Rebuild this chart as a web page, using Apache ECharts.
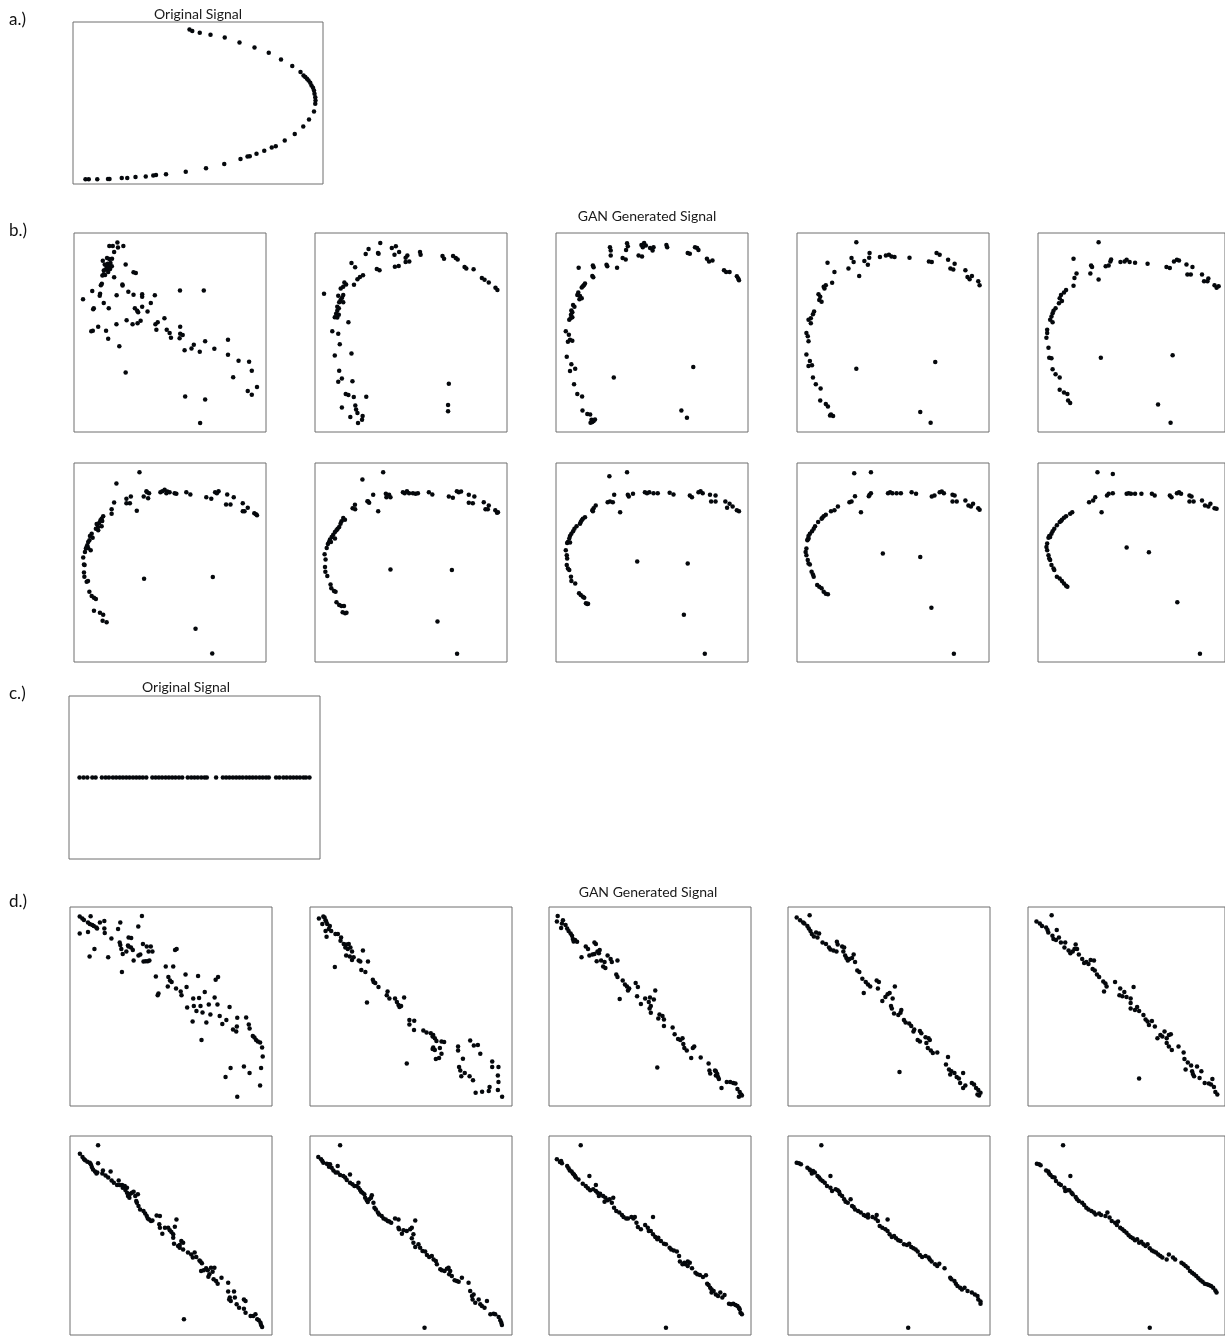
<!DOCTYPE html>
<html>
<head>
<meta charset="utf-8">
<script src="https://cdn.jsdelivr.net/npm/echarts@6/dist/echarts.min.js"></script>
<style>
  html, body { margin: 0; padding: 0; background: #fff; }
  #chart { width: 1225px; height: 1336px; }
</style>
</head>
<body>
<div id="chart"></div>
<script>
// Each panel plots normalised signal samples on a 0-100 by 0-100 plane.
const titleOriginal = 'Original Signal';
const titleGan = 'GAN Generated Signal';
const rowLabels = ['a.)', 'b.)', 'c.)', 'd.)'];

// a.) parabolic signal
const aOriginal = [
  [46.6,95.3],[47.7,94.4],[50.7,93.4],[55.0,92.2],[60.7,90.5],[66.6,87.4],[72.6,84.3],[78.3,81.0],
  [83.2,76.9],[87.7,72.8],[91.0,69.1],[92.2,67.0],[92.9,66.0],[93.6,64.9],[94.2,63.9],[94.9,62.5],
  [95.4,60.8],[96.0,59.4],[96.4,57.7],[96.6,55.7],[96.9,53.6],[97.0,51.5],[96.9,49.5],[96.4,44.7],
  [94.4,39.8],[92.1,35.5],[88.7,30.9],[84.7,26.8],[81.1,23.3],[79.5,22.5],[76.5,20.6],[73.4,18.6],
  [70.7,17.1],[69.8,16.9],[67.0,15.5],[60.5,12.4],[53.2,9.7],[45.1,7.6],[37.2,6.0],[33.2,5.6],
  [32.1,5.2],[29.1,4.7],[25.0,4.3],[21.7,3.7],[19.5,3.7],[14.6,3.1],[14.0,3.1],[9.7,2.9],[6.3,2.9],[5.0,2.9]
];

// b.) generated parabola samples, training progression
const bGan1 = [
  [18.4,93.5],[20.2,93.5],[22.6,95.2],[22.9,92.7],[25.7,93.5],[20.9,90.5],[15.0,86.1],[17.2,87.4],[18.4,86.9],
  [19.8,87.1],[16.0,84.2],[17.6,84.6],[19.0,84.9],[16.9,83.4],[18.3,82.9],[19.7,83.3],[15.5,81.1],[16.4,81.6],
  [17.4,82.1],[18.8,81.9],[17.8,80.4],[15.5,79.3],[14.8,78.6],[16.2,78.9],[20.9,77.8],[26.9,84.2],[31.0,80.3],
  [32.2,79.9],[14.5,74.5],[14.0,73.8],[25.2,74.1],[25.3,73.6],[9.5,70.8],[13.6,69.5],[13.4,68.5],[22.2,68.7],
  [28.3,70.5],[31.0,69.0],[35.5,69.2],[35.5,68.0],[42.1,68.7],[55.2,71.1],[67.6,71.1],[4.7,66.7],[15.5,64.8],
  [10.3,62.2],[10.0,61.7],[18.1,62.2],[31.7,62.2],[35.5,63.0],[40.0,64.8],[32.9,60.9],[33.4,60.2],[38.3,60.5],
  [12.6,52.9],[9.8,50.9],[9.0,50.6],[16.7,50.9],[22.1,54.2],[17.8,46.9],[27.4,56.2],[30.5,54.2],[33.1,54.6],
  [34.7,55.9],[42.4,54.2],[43.6,55.2],[47.1,57.2],[42.9,51.4],[48.3,51.4],[49.8,49.8],[55.3,52.9],[50.5,47.4],
  [55.0,47.1],[55.3,49.4],[56.6,48.8],[23.6,43.1],[57.6,41.1],[61.2,42.0],[62.4,43.8],[65.5,40.3],[68.3,45.6],
  [73.1,41.8],[80.2,46.3],[80.2,38.8],[85.7,35.8],[91.2,35.3],[92.6,30.8],[82.9,27.5],[90.5,20.6],[92.6,18.7],
  [95.3,22.6],[26.9,29.9],[57.9,17.9],[68.3,16.3],[65.7,4.5]
];
const bGan2 = [
  [34.0,95.0],[42.1,93.4],[40.0,92.4],[43.8,90.4],[41.4,89.1],[27.9,92.0],[26.4,89.4],[32.8,89.9],[33.1,89.6],
  [54.7,90.4],[55.0,89.1],[48.1,88.7],[47.2,87.6],[49.1,85.7],[47.2,85.4],[66.4,88.4],[67.2,87.1],[71.9,88.4],
  [73.3,87.4],[74.3,86.7],[77.9,82.9],[78.8,82.1],[82.6,81.8],[86.9,77.4],[88.3,76.5],[90.5,75.1],[94.0,72.5],
  [95.0,71.3],[32.2,81.9],[33.6,81.3],[41.6,83.1],[43.6,83.4],[19.0,84.9],[20.9,82.8],[25.0,78.8],[23.4,77.9],
  [22.1,76.8],[20.3,74.0],[15.3,75.1],[16.2,74.1],[14.7,73.0],[13.4,72.1],[4.7,69.5],[12.1,68.5],[14.7,68.8],
  [14.1,67.5],[13.3,66.3],[12.6,65.2],[14.7,65.2],[11.6,63.0],[12.4,62.2],[11.6,60.9],[11.0,59.4],[10.3,57.7],
  [11.6,57.5],[12.4,58.9],[17.4,55.2],[9.0,50.6],[12.1,49.4],[12.9,44.1],[10.3,38.5],[19.0,39.5],[12.6,30.8],
  [14.0,26.9],[12.1,25.2],[19.5,25.5],[16.0,19.1],[17.4,18.6],[20.2,17.6],[26.7,17.7],[14.0,12.3],[21.0,13.3],
  [21.4,11.3],[22.1,9.6],[18.4,7.6],[24.8,8.0],[24.5,6.1],[22.4,4.5],[69.7,24.2],[69.3,13.6],[69.3,10.4]
];
const bGan3 = [
  [28.1,92.9],[28.5,91.2],[28.5,88.7],[37.0,94.9],[37.4,93.4],[36.5,91.5],[44.5,94.0],[45.9,95.0],[46.8,93.7],
  [45.2,92.9],[49.0,92.4],[50.3,91.2],[50.8,92.9],[43.0,88.7],[44.8,88.2],[57.5,94.0],[57.9,92.9],[68.6,89.9],
  [69.7,89.6],[72.4,92.9],[74.2,91.5],[73.5,92.4],[78.6,87.1],[79.7,85.7],[81.5,86.2],[87.5,81.3],[88.6,80.4],
  [90.4,80.4],[94.2,78.3],[94.9,77.1],[95.3,76.3],[26.3,84.1],[26.7,83.3],[31.8,82.6],[34.7,87.4],[36.3,86.7],
  [19.2,83.7],[19.6,82.8],[11.8,82.6],[18.9,78.4],[19.4,77.8],[15.1,74.6],[14.5,73.8],[13.4,72.6],[14.0,73.3],
  [11.6,70.1],[11.1,68.8],[12.5,68.3],[12.2,66.7],[13.4,67.2],[8.9,63.8],[9.6,63.0],[8.0,61.0],[8.5,60.2],
  [7.8,58.9],[6.9,56.4],[7.6,57.2],[8.5,57.7],[5.1,50.6],[6.7,48.9],[7.3,46.4],[6.2,45.3],[8.5,45.9],
  [5.6,37.8],[8.0,34.0],[7.3,30.7],[10.0,31.8],[9.4,24.0],[11.1,19.1],[13.6,17.9],[13.8,10.8],[16.3,9.1],
  [17.8,8.8],[18.5,6.1],[19.6,5.5],[18.9,5.0],[20.3,6.3],[18.0,4.6],[30.1,27.4],[71.5,32.7],[65.3,10.8],[68.2,7.1]
];
const bGan4 = [
  [30.9,95.4],[28.4,87.4],[29.5,85.4],[37.8,90.0],[37.6,87.6],[35.1,85.9],[36.9,84.1],[26.8,82.1],[32.4,78.4],
  [43.2,87.9],[46.3,88.7],[47.9,89.1],[49.2,88.2],[50.8,87.9],[58.6,87.6],[68.7,85.7],[70.2,85.4],[72.7,89.9],
  [74.3,89.1],[78.7,86.6],[79.9,82.1],[81.4,81.6],[82.1,84.6],[87.7,81.3],[88.8,77.9],[89.9,76.8],[91.1,78.4],
  [94.4,75.8],[95.1,73.8],[15.9,85.1],[19.5,80.4],[18.3,75.0],[15.0,73.8],[14.3,72.1],[13.9,73.0],[11.2,69.2],
  [12.1,68.0],[11.6,66.3],[12.8,65.5],[8.9,60.5],[8.3,59.2],[7.2,57.2],[6.0,56.4],[7.2,54.7],[4.9,49.8],
  [5.6,48.1],[6.0,45.6],[4.9,39.0],[6.7,35.7],[7.8,33.5],[6.0,33.2],[8.3,27.4],[9.8,24.0],[12.3,21.9],
  [12.1,15.8],[15.0,14.1],[16.1,12.8],[17.7,8.8],[18.8,8.0],[17.2,8.3],[30.9,31.8],[72.0,35.2],[64.2,10.1],[69.6,4.6]
];
const bGan5 = [
  [32.4,95.4],[19.0,87.1],[28.4,83.7],[28.9,82.9],[28.0,79.6],[32.4,76.6],[36.2,83.3],[37.8,83.7],[39.1,86.7],
  [38.7,85.7],[44.1,85.4],[46.3,85.7],[47.4,86.6],[49.0,85.4],[51.9,85.1],[58.6,84.6],[68.7,82.9],[70.5,82.4],
  [72.7,85.7],[74.3,86.6],[75.4,86.2],[79.4,84.2],[79.9,79.1],[81.7,79.1],[82.6,82.9],[87.7,79.1],[88.8,75.8],
  [90.6,75.8],[91.1,77.1],[94.4,73.8],[95.5,72.5],[96.6,73.3],[20.6,79.6],[19.5,77.4],[19.0,73.5],[15.0,71.3],
  [13.9,70.1],[12.3,68.8],[11.6,67.2],[12.8,65.8],[11.2,64.7],[9.4,62.2],[8.3,60.9],[7.8,59.7],[7.2,58.0],
  [6.5,56.4],[7.8,55.2],[4.9,51.4],[4.9,49.8],[4.5,47.3],[5.6,42.3],[6.0,37.3],[7.2,37.0],[7.8,31.5],
  [9.4,29.0],[11.6,27.4],[11.6,21.2],[13.9,19.9],[15.7,19.1],[16.1,15.8],[17.2,14.6],[33.6,37.3],[72.0,38.6],
  [64.2,13.8],[70.9,4.6]
];
const bGan6 = [
  [34.1,95.3],[22.1,89.7],[20.9,80.2],[19.6,76.7],[19.6,74.5],[27.3,82.0],[27.3,79.8],[29.1,79.8],[29.6,83.2],
  [32.7,76.0],[36.3,83.2],[38.6,82.3],[37.7,85.8],[39.1,84.8],[38.1,85.3],[45.0,85.3],[46.0,85.8],[47.2,86.5],
  [48.1,84.8],[48.6,85.7],[49.8,85.3],[52.4,84.8],[53.3,84.5],[58.5,85.3],[60.6,84.2],[68.9,82.8],[71.5,82.0],
  [73.5,85.3],[75.3,85.8],[74.4,84.8],[79.8,84.2],[83.2,82.8],[79.2,79.2],[81.5,79.2],[87.9,79.8],[90.5,77.5],
  [88.8,75.8],[87.9,75.8],[93.9,74.8],[94.8,74.2],[95.3,73.7],[15.2,73.3],[14.4,72.0],[13.8,71.2],[14.7,70.8],
  [13.1,69.8],[11.8,69.3],[12.5,67.8],[14.4,68.2],[11.4,67.0],[12.6,66.2],[9.2,64.5],[8.3,63.3],[9.7,62.5],
  [8.0,61.2],[7.4,60.3],[6.9,58.7],[6.6,57.8],[7.4,57.3],[6.2,57.0],[8.7,56.2],[5.7,55.3],[4.8,52.5],
  [5.2,49.0],[5.5,48.7],[5.2,45.0],[5.4,42.8],[6.6,40.3],[7.3,40.7],[8.0,35.3],[9.2,33.2],[10.4,32.3],
  [11.4,31.7],[10.4,25.7],[13.5,24.8],[15.2,23.7],[14.9,20.7],[17.0,20.0],[36.5,41.8],[72.3,42.7],[63.3,16.7],[72.0,4.3]
];
const bGan7 = [
  [35.5,95.3],[24.7,91.7],[20.8,79.0],[19.6,77.3],[20.9,76.7],[27.7,80.7],[28.2,80.0],[27.3,80.8],[30.3,84.0],
  [32.9,75.7],[36.9,84.5],[38.6,84.0],[39.3,82.8],[37.2,82.8],[45.8,85.3],[46.7,84.8],[47.9,85.8],[49.0,84.8],
  [51.0,84.8],[52.4,84.5],[53.6,84.8],[59.3,85.3],[61.1,84.2],[69.7,83.2],[71.8,82.5],[73.9,85.8],[74.9,85.3],
  [76.1,85.7],[80.1,84.0],[83.0,83.2],[80.1,80.0],[82.2,79.8],[87.9,80.3],[90.5,78.7],[88.8,76.7],[90.0,76.7],
  [93.9,76.2],[94.8,75.0],[95.3,75.3],[14.7,72.3],[15.6,71.5],[13.8,70.7],[13.3,69.5],[12.6,67.8],[11.8,67.0],
  [11.2,66.2],[10.4,65.3],[9.5,64.0],[8.7,62.8],[7.8,61.5],[7.3,60.3],[6.7,59.3],[8.3,60.3],[10.4,62.0],
  [6.1,57.3],[5.0,54.2],[5.5,51.5],[5.2,47.8],[5.4,45.3],[6.4,43.2],[8.1,39.0],[8.5,37.0],[9.9,35.7],
  [10.7,35.3],[11.2,30.0],[12.6,28.7],[13.8,28.2],[15.1,28.2],[14.4,25.0],[15.7,24.5],[16.4,24.8],[39.3,46.5],
  [71.3,46.2],[63.8,20.3],[74.0,4.2]
];
const bGan8 = [
  [37.0,95.3],[27.8,93.3],[30.3,84.0],[28.1,80.7],[26.9,80.3],[29.6,80.3],[33.4,75.3],[37.4,84.0],[37.9,83.2],
  [40.1,84.5],[46.3,85.3],[47.4,84.8],[48.6,85.3],[50.8,84.8],[53.0,84.8],[59.2,85.0],[61.2,84.2],[69.7,83.7],
  [70.8,82.8],[74.2,85.3],[75.3,85.8],[76.4,84.8],[80.2,84.0],[83.1,83.7],[80.8,80.7],[83.1,80.7],[88.2,80.7],
  [90.4,79.5],[92.0,78.2],[89.1,77.5],[94.2,76.2],[95.3,75.7],[20.7,78.7],[19.6,77.3],[18.9,76.2],[19.2,75.7],
  [15.1,72.8],[14.0,72.0],[12.9,70.3],[13.4,71.2],[12.5,69.5],[10.7,68.2],[9.6,67.0],[8.9,65.7],[8.0,64.5],
  [7.3,63.3],[6.9,62.0],[6.2,60.3],[5.8,59.8],[7.3,60.0],[5.1,56.2],[5.6,53.7],[5.8,52.0],[5.6,48.7],
  [6.2,47.0],[6.9,46.2],[7.8,42.8],[8.0,40.7],[10.0,39.5],[12.0,34.5],[12.9,33.7],[14.0,32.8],[14.7,32.3],
  [15.6,29.5],[16.3,29.2],[16.7,29.3],[42.3,50.5],[68.6,49.5],[66.6,23.7],[77.5,4.2]
];
const bGan9 = [
  [29.8,94.8],[38.5,95.3],[27.3,80.3],[28.4,80.7],[30.2,83.3],[33.3,75.3],[37.4,83.3],[37.8,84.0],[38.5,84.8],
  [47.4,84.8],[48.5,85.3],[49.7,84.8],[51.9,84.8],[54.1,84.8],[59.7,85.3],[62.0,84.5],[70.2,83.2],[71.6,83.7],
  [74.3,85.3],[75.4,85.7],[76.5,84.8],[81.0,84.0],[82.1,83.7],[81.0,80.7],[83.2,80.7],[87.7,81.2],[89.3,78.7],
  [90.6,78.2],[91.7,79.5],[94.4,77.3],[95.1,76.5],[21.3,78.2],[19.5,76.2],[17.7,75.7],[15.0,74.0],[13.9,73.3],
  [12.8,72.0],[13.2,72.5],[11.0,70.3],[9.4,68.2],[8.7,67.0],[7.8,65.7],[6.7,64.5],[6.0,63.3],[5.6,61.7],
  [6.0,62.0],[5.4,61.2],[4.9,57.0],[4.5,55.3],[4.9,53.7],[5.6,51.2],[6.0,49.5],[6.7,49.0],[7.6,45.3],
  [8.3,44.0],[8.7,42.8],[10.5,38.7],[11.6,37.8],[12.8,37.0],[13.9,35.3],[15.0,34.3],[16.1,34.0],[44.7,54.5],
  [64.2,52.8],[70.0,27.3],[81.7,4.2]
];
const bGan10 = [
  [31.8,95.3],[40.0,94.5],[27.3,80.3],[29.5,81.2],[30.6,82.8],[34.0,75.3],[36.9,83.7],[37.8,84.5],[40.0,84.8],
  [47.4,84.5],[48.5,84.8],[49.7,84.5],[51.9,84.5],[55.3,84.5],[60.9,84.5],[62.4,83.7],[70.5,83.7],[71.4,82.8],
  [74.3,84.8],[75.4,85.3],[76.5,84.5],[81.0,83.7],[82.1,83.2],[81.0,80.7],[83.2,80.7],[87.7,81.2],[89.3,78.7],
  [91.1,78.2],[92.2,79.5],[94.4,77.3],[95.5,77.0],[18.3,75.3],[17.2,74.5],[15.0,73.3],[13.9,72.5],[12.8,71.5],
  [11.6,70.3],[12.3,70.8],[10.1,68.7],[8.7,67.0],[7.8,65.7],[7.2,64.5],[6.0,63.3],[5.6,62.5],[6.5,62.8],
  [4.9,59.5],[4.5,57.8],[4.9,56.2],[5.6,53.7],[6.0,52.0],[6.5,51.2],[7.2,48.7],[8.3,47.0],[8.7,46.2],
  [10.1,42.8],[11.6,42.0],[12.8,40.7],[13.9,39.5],[15.0,38.3],[15.7,37.8],[47.4,57.5],[59.3,55.2],[74.5,30.0],[86.6,4.2]
];

// c.) constant-level signal
const cOriginal = [
  [4.2,50],[5.8,50],[7.3,50],[9.3,50],[10.6,50],[13.1,50],[14.6,50],[15.9,50],[17.5,50],[18.8,50],[20.2,50],
  [21.5,50],[22.8,50],[24.1,50],[25.5,50],[26.8,50],[28.1,50],[29.4,50],[30.8,50],[33.2,50],[34.5,50],[35.8,50],
  [37.1,50],[38.5,50],[39.8,50],[41.1,50],[42.4,50],[43.8,50],[45.1,50],[47.3,50],[48.7,50],[50.0,50],[51.3,50],
  [52.7,50],[54.0,50],[54.9,50],[58.6,50],[61.3,50],[62.6,50],[63.9,50],[65.3,50],[66.6,50],[67.9,50],[69.2,50],
  [70.6,50],[71.9,50],[73.2,50],[74.5,50],[75.9,50],[77.2,50],[78.5,50],[79.6,50],[82.5,50],[83.8,50],[85.4,50],
  [86.7,50],[88.1,50],[89.4,50],[90.7,50],[92.0,50],[93.4,50],[94.4,50],[95.8,50]
];

// d.) generated samples, training progression
const dGan1 = [
  [4.8,95.2],[6.1,94.2],[6.9,93.5],[10.2,95.3],[8.9,92.2],[9.8,91.4],[11.0,90.9],[11.8,90.5],[13.0,89.7],
  [13.4,89.2],[4.8,86.7],[8.9,87.5],[14.8,92.2],[17.0,93.0],[17.0,89.2],[17.2,86.9],[20.5,84.2],[23.8,88.9],
  [24.9,92.2],[24.6,82.2],[24.9,80.9],[25.4,78.9],[26.1,76.4],[29.0,84.7],[30.3,84.4],[28.7,80.6],[30.2,79.7],
  [31.1,78.4],[29.0,80.1],[27.9,77.6],[31.5,73.1],[33.8,90.2],[35.6,95.5],[33.9,75.6],[34.8,76.1],[36.1,81.4],
  [38.0,80.2],[38.9,77.6],[40.0,80.1],[40.8,77.6],[36.4,72.6],[37.5,72.8],[38.5,72.8],[39.3,73.1],[12.1,78.9],
  [9.7,75.1],[18.9,74.8],[25.7,67.3],[42.5,65.1],[43.8,56.5],[43.4,55.6],[47.4,70.1],[51.1,70.1],[48.7,64.8],
  [49.5,63.1],[48.4,60.1],[50.3,62.3],[52.5,59.0],[52.0,78.4],[52.8,78.9],[54.8,57.6],[55.2,55.6],[57.2,66.1],
  [57.7,59.8],[61.0,54.0],[63.4,65.3],[63.9,54.3],[58.0,49.5],[61.3,50.2],[62.6,47.8],[64.6,50.3],[66.7,57.3],
  [65.6,47.0],[68.7,51.0],[69.5,46.0],[72.1,63.5],[73.3,64.8],[71.6,54.5],[73.0,51.0],[67.5,41.9],[60.7,42.4],
  [65.1,33.2],[74.1,45.2],[75.4,41.2],[77.4,43.2],[79.0,49.8],[80.7,38.5],[82.3,37.4],[82.6,39.9],[82.8,44.4],
  [87.2,44.5],[88.5,41.0],[88.9,39.0],[90.5,35.2],[91.3,34.4],[92.1,33.2],[93.0,32.4],[94.1,31.9],[95.1,29.4],
  [95.4,24.9],[94.6,19.1],[94.1,10.3],[88.9,16.6],[86.1,19.9],[79.5,19.1],[77.0,14.6],[82.8,4.7]
];
const dGan2 = [
  [4.4,94.2],[6.6,95.2],[7.2,94.7],[7.7,93.4],[8.0,92.7],[6.1,91.4],[8.5,91.4],[9.8,90.5],[9.3,88.9],
  [7.7,88.0],[10.5,88.0],[8.2,85.0],[12.6,86.4],[13.8,86.4],[15.4,84.7],[15.1,83.1],[16.7,81.4],[18.0,81.1],
  [19.2,81.4],[17.5,79.7],[18.7,78.9],[20.0,79.7],[20.8,77.6],[17.9,75.6],[19.7,75.1],[20.8,73.4],[21.6,74.8],
  [24.1,73.1],[24.9,72.6],[26.2,78.1],[28.7,72.6],[25.4,68.4],[27.4,67.3],[12.3,69.8],[31.1,63.5],[31.5,62.3],
  [32.3,61.8],[33.9,59.8],[38.4,57.6],[38.0,55.6],[39.3,54.0],[42.1,54.0],[43.0,52.3],[43.8,50.7],[44.3,49.8],
  [45.1,50.2],[46.6,54.5],[28.2,52.0],[49.2,43.2],[49.2,41.0],[51.6,42.9],[51.5,38.2],[56.1,37.9],[57.7,36.9],
  [59.8,36.5],[61.0,35.7],[60.7,34.9],[61.8,34.1],[62.6,32.7],[65.1,32.4],[66.4,32.1],[61.0,29.4],[61.8,28.2],
  [64.3,29.1],[60.7,28.7],[65.1,26.2],[63.9,24.1],[62.3,23.6],[47.9,21.3],[73.3,29.9],[73.3,27.9],[75.7,23.8],
  [79.3,32.9],[81.1,30.4],[83.1,30.7],[84.3,26.2],[74.9,15.0],[76.6,16.6],[74.4,17.8],[73.8,19.6],[79.0,15.0],
  [80.7,13.0],[90.2,22.4],[90.2,19.6],[93.3,19.6],[93.0,15.3],[93.3,12.0],[93.0,8.0],[88.9,9.6],[88.5,7.5],
  [85.2,7.1],[82.0,6.6],[95.1,4.7]
];
const dGan3 = [
  [4.3,95.5],[3.9,92.7],[6.4,91.7],[6.9,93.4],[8.2,90.9],[6.0,89.4],[9.0,89.2],[9.7,88.0],[10.7,86.7],
  [11.4,85.5],[11.8,83.9],[12.9,83.4],[13.9,82.6],[12.2,82.7],[18.2,80.1],[19.3,78.9],[22.5,82.2],[23.2,81.4],
  [20.0,75.6],[21.5,76.1],[22.5,76.4],[24.7,76.7],[24.0,77.6],[25.1,78.4],[16.1,74.8],[23.6,72.8],[25.8,73.1],
  [27.5,72.3],[26.8,70.1],[27.9,69.4],[29.0,75.6],[30.5,73.9],[31.1,72.3],[33.9,73.1],[33.3,66.1],[33.9,64.8],
  [36.5,63.1],[37.6,61.0],[38.6,60.1],[39.7,59.0],[39.1,58.1],[42.9,61.8],[44.0,59.8],[43.6,55.1],[45.5,51.2],
  [47.6,54.0],[50.0,54.5],[49.4,52.3],[51.9,53.5],[50.4,50.2],[49.8,49.0],[52.6,58.1],[35.0,53.8],[50.4,46.8],
  [54.7,46.0],[54.1,44.0],[56.2,45.2],[56.9,43.5],[56.9,40.2],[61.2,39.5],[62.2,36.0],[63.9,33.7],[66.1,34.1],
  [65.0,33.2],[66.5,31.2],[67.0,29.1],[68.2,27.9],[71.2,29.1],[71.9,29.9],[70.4,24.1],[75.1,24.4],[53.6,19.4],
  [79.0,21.3],[79.4,17.9],[79.8,16.3],[82.2,17.9],[83.3,16.1],[82.6,15.3],[83.7,14.6],[84.1,13.6],[85.4,9.1],
  [82.6,17.4],[88.0,12.0],[89.7,12.1],[91.2,11.6],[92.3,11.3],[93.3,8.6],[94.4,7.0],[95.1,5.8],[94.0,4.7],[95.5,5.3]
];
const dGan4 = [
  [4.3,94.7],[10.7,95.8],[6.0,93.4],[7.5,92.2],[8.1,91.7],[9.6,90.5],[10.3,89.2],[11.1,88.0],[11.8,86.4],
  [12.8,85.2],[14.6,84.7],[13.9,87.2],[15.4,86.7],[17.1,82.2],[18.8,81.4],[20.3,79.7],[21.0,78.6],[22.5,78.1],
  [24.0,77.6],[24.2,82.6],[24.6,81.1],[26.8,80.2],[27.8,79.7],[27.4,77.7],[28.3,75.6],[28.9,74.4],[29.6,73.1],
  [30.4,73.9],[31.7,74.4],[32.5,76.1],[33.2,72.3],[34.3,68.1],[35.3,67.3],[36.8,64.0],[38.5,62.3],[39.6,61.1],
  [40.7,60.1],[37.5,56.8],[43.9,63.1],[45.0,62.3],[44.5,59.0],[46.7,52.8],[48.2,54.8],[49.3,56.1],[50.3,56.8],
  [51.8,54.0],[52.9,60.1],[51.0,50.2],[51.4,49.0],[52.5,46.5],[54.6,45.7],[55.7,46.8],[56.1,48.2],[57.4,43.2],
  [58.2,41.9],[60.0,41.5],[61.0,40.2],[62.5,38.5],[62.1,37.4],[65.3,37.7],[66.0,36.5],[68.1,34.6],[69.6,34.1],
  [70.2,33.2],[64.2,33.2],[65.3,32.4],[68.5,31.6],[69.2,29.1],[70.7,27.9],[71.7,26.6],[73.9,26.9],[79.2,24.6],
  [78.2,20.8],[79.7,18.3],[80.9,17.4],[80.3,15.8],[82.4,16.6],[83.5,14.6],[84.6,13.8],[86.7,16.6],[85.2,11.6],
  [87.8,10.3],[86.7,9.1],[91.0,11.6],[92.1,10.8],[93.1,9.1],[94.2,8.0],[93.8,5.8],[95.3,6.6],[94.6,5.3],[55.2,17.1]
];
const dGan5 = [
  [4.3,92.7],[12.0,95.8],[6.0,91.7],[7.1,90.5],[9.2,89.7],[9.9,88.4],[10.3,87.2],[12.4,85.5],[12.9,83.9],
  [14.2,83.4],[14.6,88.4],[15.7,84.7],[16.7,82.2],[18.9,82.2],[18.5,79.7],[20.6,78.1],[21.5,76.7],[22.7,77.7],
  [23.6,78.9],[24.2,81.1],[24.9,78.9],[25.8,76.1],[27.5,73.9],[28.5,71.8],[29.6,72.3],[30.7,71.4],[31.8,73.4],
  [33.5,73.1],[32.8,68.9],[33.9,68.1],[35.0,66.1],[36.1,64.8],[38.2,62.6],[39.3,61.5],[39.9,60.1],[38.6,57.6],
  [44.2,62.3],[46.8,59.0],[46.4,55.6],[47.9,55.1],[48.9,57.3],[50.0,54.8],[52.1,54.0],[53.6,59.8],[52.1,51.8],
  [52.1,49.0],[54.3,48.2],[55.4,49.8],[56.4,47.8],[58.6,45.7],[59.7,43.5],[60.7,42.4],[61.4,40.7],[62.9,42.7],
  [64.4,39.9],[65.7,34.1],[67.2,35.7],[68.2,34.9],[69.3,37.4],[70.4,34.1],[71.5,35.7],[72.5,36.0],[70.4,31.6],
  [71.5,29.9],[73.0,28.2],[76.4,29.9],[79.0,26.9],[79.4,23.6],[81.1,21.9],[82.8,20.3],[83.3,17.4],[80.0,18.3],
  [83.7,16.1],[84.3,15.0],[85.8,19.9],[87.1,14.1],[88.0,17.4],[89.7,11.6],[91.8,11.3],[92.9,10.8],[93.6,13.6],
  [94.4,9.6],[95.1,7.0],[96.1,5.8],[56.4,13.8]
];
const dGan6 = [
  [13.9,95.3],[4.9,91.1],[6.2,89.4],[7.0,88.3],[7.5,87.8],[8.6,87.1],[9.8,86.6],[10.3,85.8],[10.8,84.4],
  [11.4,83.2],[12.4,82.1],[13.1,81.2],[13.9,86.3],[13.5,81.6],[16.3,82.7],[16.0,81.1],[17.6,80.2],[18.9,79.1],
  [20.1,82.1],[20.6,77.7],[21.7,76.5],[23.3,75.4],[24.1,77.7],[24.5,75.4],[25.8,75.4],[26.1,74.0],[27.1,74.9],
  [28.2,74.0],[27.4,72.9],[28.2,71.5],[28.7,69.8],[29.4,69.0],[29.9,71.0],[30.7,71.5],[31.5,72.0],[32.3,69.8],
  [32.8,67.3],[33.6,70.7],[33.1,66.5],[33.9,64.8],[34.7,63.1],[36.4,62.3],[37.2,61.0],[38.0,59.8],[38.5,58.5],
  [39.2,58.1],[40.1,57.3],[40.8,57.6],[42.9,60.1],[44.5,59.8],[44.2,55.6],[44.5,53.9],[45.7,50.9],[47.0,53.9],
  [48.6,53.9],[49.4,52.6],[50.2,51.8],[51.1,50.6],[51.9,54.4],[52.7,58.1],[51.1,48.9],[51.5,45.9],[53.5,44.7],
  [54.3,43.9],[55.1,47.2],[56.0,46.4],[54.3,45.2],[56.0,43.0],[58.4,41.4],[60.0,40.5],[60.8,38.9],[61.7,41.4],
  [62.5,39.2],[64.1,37.5],[64.6,36.9],[65.3,36.0],[64.9,32.2],[66.2,32.5],[67.4,33.5],[68.2,32.5],[69.8,33.8],
  [71.5,33.8],[70.6,31.8],[69.0,30.5],[68.5,29.3],[71.1,28.0],[72.3,27.1],[73.1,25.8],[75.0,28.8],[78.3,26.3],
  [78.3,21.8],[79.1,18.8],[79.6,17.1],[78.8,17.9],[81.2,21.8],[81.6,18.8],[82.5,15.4],[83.7,13.7],[86.1,17.9],
  [86.9,17.1],[86.1,13.2],[86.9,11.2],[89.4,9.5],[90.7,9.5],[91.8,10.4],[92.7,7.9],[93.5,7.4],[94.3,6.2],
  [94.6,5.0],[95.1,4.0],[56.4,7.9]
];
const dGan7 = [
  [14.9,95.3],[4.1,89.4],[5.5,88.3],[6.1,87.4],[6.6,86.6],[8.3,86.1],[9.1,85.8],[9.9,85.8],[9.4,84.6],
  [10.7,84.1],[11.6,82.7],[12.7,81.6],[13.7,81.6],[13.7,84.9],[14.9,80.4],[16.5,79.9],[17.4,79.1],[18.2,77.9],
  [19.8,80.7],[19.8,76.5],[21.0,75.7],[22.0,74.9],[23.1,74.9],[24.0,76.5],[24.0,74.0],[24.8,72.9],[25.3,72.0],
  [26.0,71.5],[26.9,70.7],[27.3,69.0],[28.1,67.7],[28.6,66.8],[29.3,68.2],[30.2,69.0],[30.6,70.2],[31.4,66.5],
  [31.9,64.0],[32.6,63.1],[33.6,61.5],[34.2,60.6],[35.5,59.8],[36.4,58.6],[37.5,58.1],[38.5,57.3],[39.2,57.0],
  [40.2,56.4],[42.1,58.6],[43.8,58.1],[43.8,53.9],[44.1,53.1],[45.5,50.9],[46.3,52.6],[47.9,52.3],[49.6,53.1],
  [50.4,53.9],[51.2,50.6],[52.1,57.6],[50.4,48.6],[51.2,46.4],[52.1,44.2],[53.7,45.6],[54.5,43.9],[55.7,42.2],
  [57.0,41.9],[57.9,40.2],[59.0,39.2],[60.3,39.7],[61.2,38.0],[62.3,37.2],[62.8,35.5],[64.5,33.0],[65.3,32.5],
  [66.6,32.2],[67.8,33.3],[68.6,33.8],[69.4,32.2],[68.9,30.5],[70.2,29.6],[71.6,27.5],[72.7,27.1],[73.6,26.8],
  [75.2,28.8],[78.5,26.3],[79.3,22.1],[80.2,19.6],[80.5,17.9],[81.0,20.4],[81.8,16.2],[83.5,17.9],[84.3,15.4],
  [85.1,14.6],[86.4,13.7],[87.6,17.1],[89.3,10.4],[90.9,10.7],[91.7,10.4],[93.4,9.0],[94.2,7.4],[94.7,6.2],
  [95.0,5.0],[56.7,3.7]
];
const dGan8 = [
  [15.7,95.3],[3.9,88.3],[5.4,86.9],[6.4,86.3],[6.0,87.4],[9.0,84.9],[9.7,83.8],[10.3,82.7],[11.2,82.1],
  [11.8,81.2],[12.9,79.9],[13.3,79.1],[12.4,80.7],[20.0,79.9],[14.6,78.2],[16.7,76.0],[18.2,74.9],[19.3,73.7],
  [20.4,72.7],[21.9,73.2],[23.2,75.4],[23.2,72.4],[24.0,71.5],[25.3,71.0],[24.7,69.8],[26.8,69.8],[27.9,69.0],
  [27.5,67.0],[29.0,67.7],[30.0,68.2],[31.1,66.5],[31.8,69.0],[32.2,64.0],[33.3,62.3],[34.8,61.5],[36.1,60.3],
  [36.9,59.3],[38.2,58.6],[39.1,58.6],[40.8,59.3],[41.8,58.6],[42.5,59.3],[43.3,56.4],[44.0,54.3],[45.5,53.1],
  [47.6,55.3],[48.9,53.9],[50.4,52.3],[51.5,59.3],[49.4,52.3],[51.5,50.6],[52.6,49.2],[53.6,48.1],[54.1,48.9],
  [55.4,47.2],[56.9,45.9],[57.9,45.6],[59.7,43.9],[60.5,43.0],[61.8,42.5],[63.3,41.9],[64.4,39.7],[64.8,36.9],
  [66.1,35.5],[67.0,36.3],[67.6,35.5],[68.7,36.9],[69.7,36.3],[68.7,34.7],[70.8,33.5],[72.5,31.3],[73.4,30.5],
  [74.7,30.2],[76.2,29.1],[77.7,30.0],[78.3,25.8],[79.0,25.1],[79.8,23.8],[80.5,22.9],[81.5,22.1],[80.5,21.3],
  [82.6,20.4],[83.7,19.6],[84.8,21.3],[85.8,18.8],[86.9,20.1],[89.1,15.7],[90.1,15.4],[91.2,15.7],[92.3,15.1],
  [93.3,14.6],[94.0,13.7],[94.4,12.9],[94.8,11.2],[95.5,10.4],[57.9,3.7]
];
const dGan9 = [
  [16.5,95.3],[4.3,86.6],[5.4,86.3],[6.4,85.8],[9.6,84.1],[10.7,83.2],[11.1,82.7],[12.4,82.4],[13.3,81.6],
  [11.8,81.1],[14.6,79.9],[15.4,79.1],[16.1,78.2],[17.1,77.4],[18.2,76.5],[21.0,79.9],[19.3,74.9],[21.0,74.0],
  [21.8,72.4],[23.6,73.2],[24.6,72.7],[25.3,72.0],[25.7,70.7],[26.8,69.8],[27.8,68.2],[28.5,67.0],[29.6,66.5],
  [31.0,68.2],[31.7,64.8],[32.5,64.3],[33.2,63.1],[34.7,62.3],[36.0,61.5],[37.5,60.3],[38.5,59.8],[39.6,59.0],
  [39.6,60.6],[41.8,59.3],[43.3,58.6],[43.9,60.3],[44.5,57.3],[45.4,54.8],[46.7,53.9],[48.2,53.1],[49.3,58.1],
  [49.3,52.3],[50.3,50.6],[51.4,49.2],[52.5,49.7],[53.5,48.6],[54.6,47.6],[55.7,47.2],[57.4,45.6],[58.9,45.2],
  [60.0,45.9],[61.0,44.2],[62.1,43.6],[63.2,43.0],[64.2,41.9],[65.3,40.2],[66.4,39.2],[68.1,39.7],[69.6,38.9],
  [70.2,38.0],[71.1,36.9],[72.8,35.5],[73.9,34.7],[74.9,35.8],[77.5,33.5],[80.3,28.8],[80.9,28.0],[82.4,27.1],
  [83.1,25.8],[83.9,24.6],[85.2,23.8],[86.1,22.9],[87.4,23.8],[88.9,22.1],[91.0,21.3],[92.5,20.4],[93.8,19.6],
  [94.2,17.9],[95.3,16.8],[95.3,15.7],[59.5,3.7]
];
const dGan10 = [
  [17.8,95.3],[4.5,86.1],[5.6,85.8],[6.4,85.3],[9.2,82.7],[10.3,82.1],[10.7,81.1],[11.4,80.4],[12.4,79.4],
  [13.5,79.1],[21.5,79.9],[14.2,77.4],[15.7,76.0],[16.7,75.4],[18.5,74.0],[18.9,72.4],[20.0,72.7],[21.0,72.7],
  [22.1,71.5],[22.7,70.7],[24.2,69.3],[24.9,68.2],[25.8,67.3],[27.5,66.5],[28.5,65.3],[29.6,64.0],[30.7,63.1],
  [32.2,62.3],[33.5,61.5],[34.3,60.6],[36.1,61.0],[37.1,60.3],[39.3,59.8],[40.3,61.5],[41.4,59.0],[42.5,57.3],
  [44.2,56.4],[45.1,55.3],[45.7,57.0],[46.8,53.9],[47.9,53.1],[48.9,52.3],[50.0,51.4],[51.1,50.1],[52.1,49.2],
  [53.2,48.6],[54.3,47.6],[55.4,48.1],[56.4,46.4],[57.5,46.9],[58.6,45.6],[59.7,44.7],[60.7,45.6],[61.8,43.6],
  [62.9,42.5],[63.9,41.9],[65.0,41.4],[66.1,40.5],[67.2,39.7],[68.2,38.9],[70.4,38.0],[71.5,40.5],[73.6,38.9],
  [74.7,38.0],[77.9,36.3],[79.0,35.5],[80.0,34.7],[81.1,33.8],[82.2,32.2],[83.3,31.3],[84.3,30.5],[85.4,29.6],
  [86.5,28.5],[87.6,27.5],[88.6,26.8],[89.7,25.8],[90.8,25.5],[91.8,25.1],[92.9,24.6],[94.0,23.8],[95.1,22.4],
  [95.7,21.3],[61.8,3.7]
];

// ---- layout of the panel grid (pixels) ----
const bRowTops = [233, 463];
const bLefts = [74, 315, 556, 797, 1038];
const dRowTops = [907, 1136];
const dLefts = [70, 310, 549, 788, 1028];

const panels = [
  { data: aOriginal, left: 73, top: 22, width: 250, height: 162 }
];
const bSets = [bGan1, bGan2, bGan3, bGan4, bGan5, bGan6, bGan7, bGan8, bGan9, bGan10];
bSets.forEach((d, i) => {
  panels.push({ data: d, left: bLefts[i % 5], top: bRowTops[Math.floor(i / 5)], width: 192, height: 199 });
});
panels.push({ data: cOriginal, left: 69, top: 696, width: 251, height: 163 });
const dSets = [dGan1, dGan2, dGan3, dGan4, dGan5, dGan6, dGan7, dGan8, dGan9, dGan10];
dSets.forEach((d, i) => {
  panels.push({ data: d, left: dLefts[i % 5], top: dRowTops[Math.floor(i / 5)], width: 202, height: 199 });
});

const grid = [], xAxis = [], yAxis = [], series = [];
panels.forEach((p, i) => {
  grid.push({
    left: p.left, top: p.top, width: p.width, height: p.height,
    show: true, borderColor: '#6e6e6e', borderWidth: 1, backgroundColor: 'transparent'
  });
  const axisCommon = {
    type: 'value', gridIndex: i, min: 0, max: 100,
    axisLine: { show: false }, axisTick: { show: false },
    axisLabel: { show: false }, splitLine: { show: false }
  };
  xAxis.push(Object.assign({}, axisCommon));
  yAxis.push(Object.assign({}, axisCommon));
  series.push({
    type: 'scatter', xAxisIndex: i, yAxisIndex: i, data: p.data,
    symbol: 'circle', symbolSize: 4.5,
    itemStyle: { color: '#05080c', opacity: 1 },
    silent: true
  });
});

const textFont = '14px Lato, "Open Sans", sans-serif';
const labelFont = '17px Lato, "Open Sans", sans-serif';
function txt(text, x, y, font, align, color) {
  return {
    type: 'text', x: x, y: y, silent: true,
    style: { text: text, font: font, fill: color, align: align, verticalAlign: 'middle' }
  };
}
const graphic = [
  txt(rowLabels[0], 9, 20, labelFont, 'left', '#111'),
  txt(rowLabels[1], 9, 231, labelFont, 'left', '#111'),
  txt(rowLabels[2], 9, 694, labelFont, 'left', '#111'),
  txt(rowLabels[3], 9, 902, labelFont, 'left', '#111'),
  txt(titleOriginal, 198, 14, textFont, 'center', '#1a1a1a'),
  txt(titleGan, 647, 216, textFont, 'center', '#1a1a1a'),
  txt(titleOriginal, 186, 687, textFont, 'center', '#1a1a1a'),
  txt(titleGan, 648, 892, textFont, 'center', '#1a1a1a')
];

const chart = echarts.init(document.getElementById('chart'), null, { renderer: 'canvas' });
chart.setOption({
  backgroundColor: '#ffffff',
  animation: false,
  grid: grid,
  xAxis: xAxis,
  yAxis: yAxis,
  series: series,
  graphic: graphic
});
</script>
</body>
</html>
